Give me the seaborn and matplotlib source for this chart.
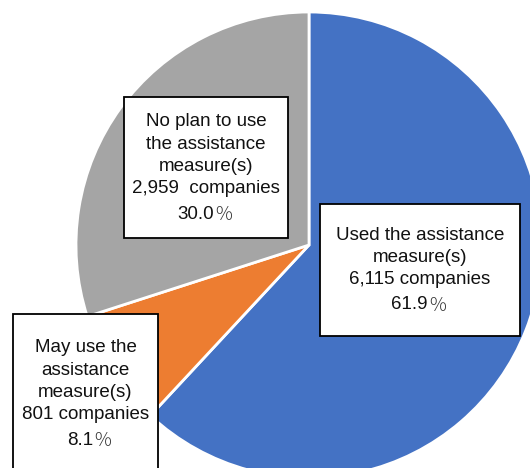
import matplotlib
matplotlib.use("Agg")
import matplotlib.pyplot as plt
from matplotlib.patches import Rectangle
from matplotlib.transforms import ScaledTranslation
import seaborn as sns

# Survey responses on use of the assistance measures
categories = ["Used the assistance\nmeasure(s)",
              "May use the\nassistance\nmeasure(s)",
              "No plan to use\nthe assistance\nmeasure(s)"]
companies = [6115, 801, 2959]
count_gaps = [" ", " ", "  "]
colors = ["#4472C4", "#ED7D31", "#A5A5A5"]

sns.set_theme(style="white")
plt.rcParams["font.family"] = ["Liberation Sans", "Noto Sans CJK JP", "DejaVu Sans"]

W, H = 530, 468
fig = plt.figure(figsize=(W / 100, H / 100), dpi=100)
ax = fig.add_axes([0, 0, 1, 1])

palette = sns.color_palette(colors)
ax.pie(companies, colors=palette, startangle=90, counterclock=False,
       center=(309, H - 245), radius=233, frame=True,
       wedgeprops=dict(edgecolor="white", linewidth=2))
ax.set_xlim(0, W)
ax.set_ylim(0, H)
ax.set_aspect("equal")
ax.axis("off")

total = sum(companies)
# label boxes (left, top, right, bottom) in pixel space, y measured from top
boxes = [(320, 204, 520, 336), (13, 314, 158, 472), (124, 97, 288, 238)]
# horizontal text centre and first-line centre of each label
text_anchor = [(420, 233), (85.5, 346), (206, 120)]
LINE = 22.2      # line pitch in pixels
PCT_GAP = 25.5   # pitch before the percentage line


def shifted(px):
    return ax.transData + ScaledTranslation(px / 100, 0, fig.dpi_scale_trans)


for name, n, gap, box, (cx, y0) in zip(categories, companies, count_gaps, boxes, text_anchor):
    l, t, r, b = box
    ax.add_patch(Rectangle((l, H - b), r - l, b - t, facecolor="white",
                           edgecolor="black", linewidth=1.3, zorder=3))
    lines = f"{name}\n{n:,}{gap}companies".split("\n")
    for i, s in enumerate(lines):
        ax.text(cx, H - (y0 + i * LINE), s, ha="center", va="center_baseline",
                fontsize=13.5, color="#111111", zorder=4)
    y_pct = y0 + (len(lines) - 1) * LINE + PCT_GAP
    ax.text(cx, H - y_pct, f"{n / total * 100:.1f}", ha="right", va="center_baseline",
            fontsize=13.5, color="#111111", zorder=4, transform=shifted(7.5))
    ax.text(cx, H - y_pct, "％", ha="left", va="center_baseline",
            fontsize=13.5, color="#333333", zorder=4, fontweight="light",
            family=["Noto Sans CJK JP", "DejaVu Sans"], transform=shifted(8))

fig.savefig("out.png", dpi=100)
